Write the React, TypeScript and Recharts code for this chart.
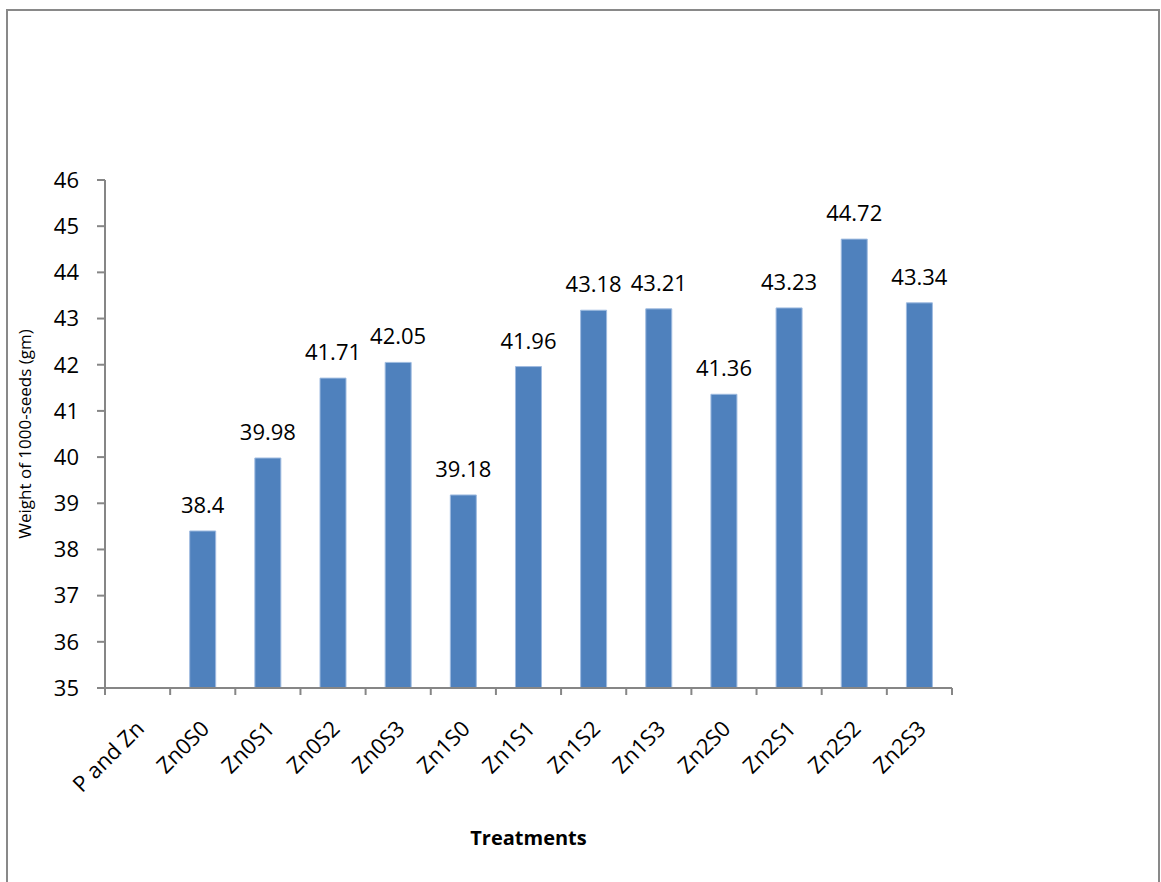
import React from "react";
import { BarChart, Bar, XAxis, YAxis, LabelList } from "recharts";

const categories = ["P and Zn", "Zn0S0", "Zn0S1", "Zn0S2", "Zn0S3", "Zn1S0", "Zn1S1", "Zn1S2", "Zn1S3", "Zn2S0", "Zn2S1", "Zn2S2", "Zn2S3"];
const weights: (number | null)[] = [null, 38.4, 39.98, 41.71, 42.05, 39.18, 41.96, 43.18, 43.21, 41.36, 43.23, 44.72, 43.34];
const yTicks = [35, 36, 37, 38, 39, 40, 41, 42, 43, 44, 45, 46];

const data = categories.map((c, i) => ({ name: c, value: weights[i] }));

const FONT = "'Open Sans', 'Noto Sans', sans-serif";
const AXIS = "#868686";

const XTick = (props: any) => {
  const { x, y, payload, index } = props;
  const half = payload.offset || 0;
  const ax = x + 8;
  const ay = y + 42;
  const isLast = index === categories.length - 1;
  return (
    <g>
      <line x1={x - half} x2={x - half} y1={y} y2={y + 7} stroke={AXIS} strokeWidth={2} />
      {isLast ? <line x1={x + half} x2={x + half} y1={y} y2={y + 7} stroke={AXIS} strokeWidth={2} /> : null}
      <text x={ax} y={ay} textAnchor="end" fontFamily={FONT} fontSize={22} fill="#000" transform={`rotate(-45, ${ax}, ${ay})`}>
        {payload.value}
      </text>
    </g>
  );
};

const YLabel = (props: any) => {
  const { viewBox } = props;
  const cx = viewBox.x + 24;
  const cy = viewBox.y + viewBox.height / 2;
  return (
    <text x={cx} y={cy} textAnchor="middle" dominantBaseline="central" fontFamily={FONT} fontSize={17} fill="#000" transform={`rotate(-90, ${cx}, ${cy})`}>
      Weight of 1000-seeds (gm)
    </text>
  );
};

const XTitle = (props: any) => {
  const { viewBox } = props;
  const cx = viewBox.x + viewBox.width / 2;
  return (
    <text x={cx} y={845} textAnchor="middle" fontFamily={FONT} fontSize={20} fontWeight="bold" fill="#000">
      Treatments
    </text>
  );
};

export default function App() {
  return (
    <div style={{ position: "absolute", left: 0, top: 0, width: 1161, height: 882, overflow: "hidden", background: "#fff" }}>
      <div style={{ position: "absolute", left: 6, top: 9, width: 1150, height: 900, border: "2px solid #898989" }} />
      <div style={{ position: "absolute", left: 0, top: 0 }}>
        <BarChart width={1161} height={882} data={data} margin={{ top: 180, right: 209, bottom: 74, left: 0 }} barCategoryGap="30%">
          <XAxis
            dataKey="name"
            interval={0}
            tickSize={0}
            tickMargin={0}
            tickLine={false}
            axisLine={{ stroke: AXIS, strokeWidth: 2 }}
            tick={<XTick />}
            height={120}
            label={<XTitle />}
          />
          <YAxis
            domain={[35, 46]}
            ticks={yTicks}
            allowDataOverflow
            width={105}
            tickSize={8}
            tickMargin={18}
            axisLine={{ stroke: AXIS, strokeWidth: 2 }}
            tickLine={{ stroke: AXIS, strokeWidth: 2 }}
            tick={{ fontFamily: FONT, fontSize: 22, fill: "#000" }}
            label={<YLabel />}
          />
          <Bar dataKey="value" fill="#4F81BD" stroke="#9fbbe0" strokeWidth={1} isAnimationActive={false}>
            <LabelList dataKey="value" position="top" offset={18} fontFamily={FONT} fontSize={22} fill="#000" />
          </Bar>
        </BarChart>
      </div>
    </div>
  );
}
